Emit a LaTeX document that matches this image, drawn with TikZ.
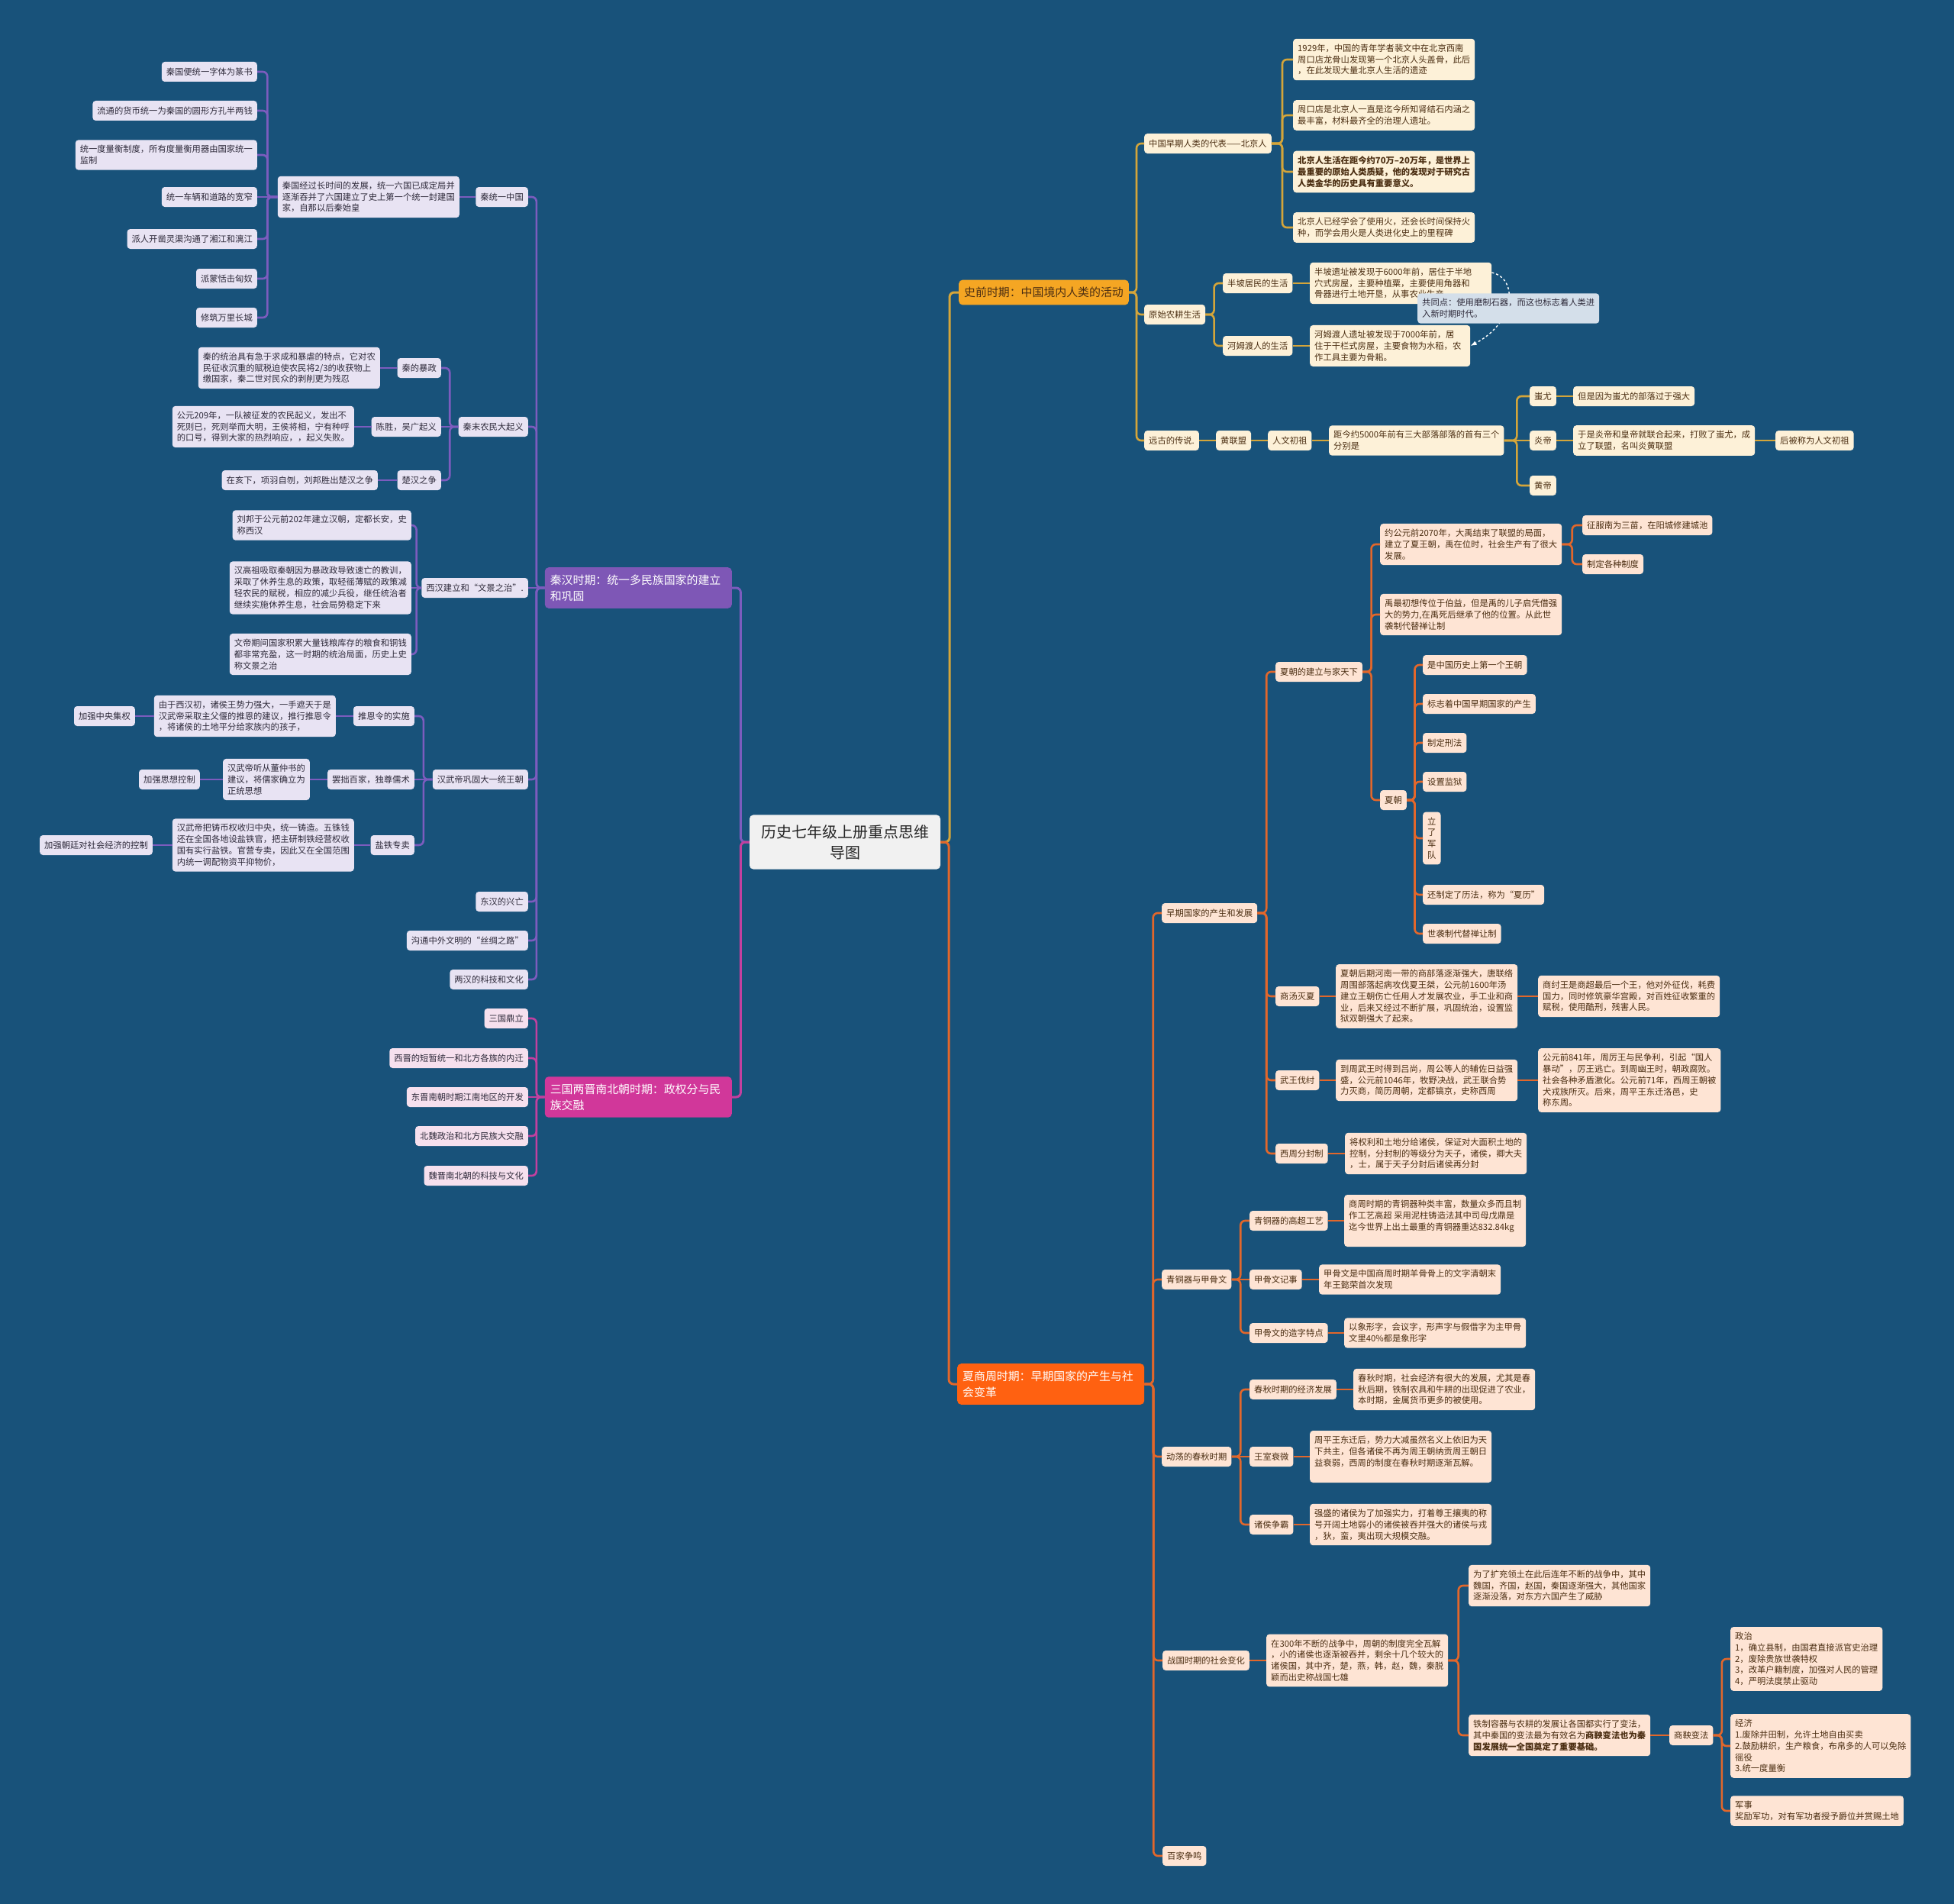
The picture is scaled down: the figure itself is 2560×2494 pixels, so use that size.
\documentclass[tikz,border=0pt]{standalone}
\usepackage{fontspec}
\setmainfont{Noto Sans CJK SC}
\usetikzlibrary{arrows.meta,calc}

\definecolor{bgblue}{HTML}{18527A}
\definecolor{rootfill}{HTML}{F1F1F1}
\definecolor{qhcat}{HTML}{7E57B6}
\definecolor{qhline}{HTML}{7C5CBE}
\definecolor{qhfill}{HTML}{E8E3F3}
\definecolor{sgcat}{HTML}{D1379A}
\definecolor{sgline}{HTML}{C2409F}
\definecolor{sgfill}{HTML}{F6E0EE}
\definecolor{sqcat}{HTML}{F5A623}
\definecolor{sqline}{HTML}{D4A53A}
\definecolor{sqfill}{HTML}{FDF1D8}
\definecolor{xzcat}{HTML}{FF6111}
\definecolor{xzline}{HTML}{E2672B}
\definecolor{xzfill}{HTML}{FEE4D4}
\definecolor{notefill}{HTML}{D4DFEA}
\definecolor{inkdark}{HTML}{2E2A3A}
\definecolor{inkbrown}{HTML}{4B2E12}

\begin{document}
\begin{tikzpicture}[
  x=1pt, y=-1pt,
  font=\fontsize{11.3}{14.8}\selectfont,
  topic/.style={rounded corners=4, inner xsep=6, inner ysep=7, minimum height=26, align=left},
  qhbox/.style={topic, fill=qhfill, text=inkdark},
  sgbox/.style={topic, fill=sgfill, text=inkdark},
  sqbox/.style={topic, fill=sqfill, text=inkbrown},
  xzbox/.style={topic, fill=xzfill, text=inkbrown},
  notebox/.style={topic, fill=notefill, text=inkdark},
  period/.style={rounded corners=5, inner xsep=7, inner ysep=9.5, align=left, font=\fontsize{14.9}{20.7}\selectfont},
  branch/.style={to path={-- ($(\tikztostart)!0.5!(\tikztostart-|\tikztotarget)$) |- (\tikztotarget)}},
  qhlink/.style={draw=qhline, line width=2.6, rounded corners=6},
  sglink/.style={draw=sgline, line width=2.6, rounded corners=6},
  sqlink/.style={draw=sqline, line width=2.6, rounded corners=6},
  xzlink/.style={draw=xzline, line width=2.6, rounded corners=6}
]

\fill[bgblue] (0,0) rectangle (2560,2494);
\useasboundingbox (0,0) rectangle (2560,2494);

\node[fill=rootfill, rounded corners=5, inner xsep=15, inner ysep=13, align=center, font=\fontsize{20}{26.7}\selectfont, text=black!85] (root) at (1107,1103) {历史七年级上册重点思维\\导图};

\node[period, fill=qhcat, text=white, text width=231, anchor=east] (qinhan) at (959,770) {秦汉时期：统一多民族国家的建立\\和巩固};
\node[period, fill=sgcat, text=white, text width=231, anchor=east] (sanguo) at (959,1437) {三国两晋南北朝时期：政权分与民\\族交融};
\node[period, fill=sqcat, text=inkbrown, anchor=west] (shiqian) at (1256,383) {史前时期：中国境内人类的活动};
\node[period, fill=xzcat, text=white, text width=231, anchor=west] (xsz) at (1254,1813) {夏商周时期：早期国家的产生与社\\会变革};

% Qin and Han
\node[qhbox, anchor=east] (qtyz) at (692,258) {秦统一中国};
\node[qhbox, anchor=east] (qtyzD) at (602,258) {秦国经过长时间的发展，统一六国已成定局并\\逐渐吞并了六国建立了史上第一个统一封建国\\家，自那以后秦始皇};
\node[qhbox, anchor=east] (qa1) at (337,94) {秦国便统一字体为篆书};
\node[qhbox, anchor=east] (qa2) at (337,145) {流通的货币统一为秦国的圆形方孔半两钱};
\node[qhbox, anchor=east] (qa3) at (337,203) {统一度量衡制度，所有度量衡用器由国家统一\\监制};
\node[qhbox, anchor=east] (qa4) at (337,258) {统一车辆和道路的宽窄};
\node[qhbox, anchor=east] (qa5) at (337,313) {派人开凿灵渠沟通了湘江和漓江};
\node[qhbox, anchor=east] (qa6) at (337,365) {派蒙恬击匈奴};
\node[qhbox, anchor=east] (qa7) at (337,416) {修筑万里长城};

\node[qhbox, anchor=east] (qmqy) at (692,559) {秦末农民大起义};
\node[qhbox, anchor=east] (bz) at (578,482) {秦的暴政};
\node[qhbox, anchor=east] (bzD) at (498,482) {秦的统治具有急于求成和暴虐的特点，它对农\\民征收沉重的赋税迫使农民将2/3的收获物上\\缴国家，秦二世对民众的剥削更为残忍};
\node[qhbox, anchor=east] (csgy) at (578,559) {陈胜，吴广起义};
\node[qhbox, anchor=east] (csD) at (464,559) {公元209年，一队被征发的农民起义，发出不\\死则已，死则举而大明，王侯将相，宁有种呼\\的口号，得到大家的热烈响应，，起义失败。};
\node[qhbox, anchor=east] (chzz) at (578,629) {楚汉之争};
\node[qhbox, anchor=east] (chD) at (495,629) {在亥下，项羽自刎，刘邦胜出楚汉之争};

\node[qhbox, anchor=east] (xhjl) at (692,770) {西汉建立和“文景之治”.};
\node[qhbox, anchor=east] (xh1) at (539,688) {刘邦于公元前202年建立汉朝，定都长安，史\\称西汉};
\node[qhbox, anchor=east] (xh2) at (539,770) {汉高祖吸取秦朝因为暴政政导致速亡的教训，\\采取了休养生息的政策，取轻徭薄赋的政策减\\轻农民的赋税，相应的减少兵役，继任统治者\\继续实施休养生息，社会局势稳定下来};
\node[qhbox, anchor=east] (xh3) at (539,857) {文帝期间国家积累大量钱粮库存的粮食和铜钱\\都非常充盈，这一时期的统治局面，历史上史\\称文景之治};

\node[qhbox, anchor=east] (hwd) at (692,1021) {汉武帝巩固大一统王朝};
\node[qhbox, anchor=east] (ty) at (543,938) {推恩令的实施};
\node[qhbox, anchor=east] (tyD) at (440,938) {由于西汉初，诸侯王势力强大，一手遮天于是\\汉武帝采取主父偃的推恩的建议，推行推恩令\\，将诸侯的土地平分给家族内的孩子，};
\node[qhbox, anchor=east] (tyE) at (177,938) {加强中央集权};
\node[qhbox, anchor=east] (bc) at (543,1021) {罢拙百家，独尊儒术};
\node[qhbox, anchor=east] (bcD) at (406,1021) {汉武帝听从董仲书的\\建议，将儒家确立为\\正统思想};
\node[qhbox, anchor=east] (bcE) at (262,1021) {加强思想控制};
\node[qhbox, anchor=east] (yt) at (543,1107) {盐铁专卖};
\node[qhbox, anchor=east] (ytD) at (464,1107) {汉武帝把铸币权收归中央，统一铸造。五铢钱\\还在全国各地设盐铁官，把主研制铁经营权收\\国有实行盐铁。官营专卖，因此又在全国范围\\内统一调配物资平抑物价，};
\node[qhbox, anchor=east] (ytE) at (200,1107) {加强朝廷对社会经济的控制};

\node[qhbox, anchor=east] (dhxw) at (692,1181) {东汉的兴亡};
\node[qhbox, anchor=east] (sczl) at (692,1232) {沟通中外文明的“丝绸之路”};
\node[qhbox, anchor=east] (lhkj) at (692,1283) {两汉的科技和文化};

% Three Kingdoms to Southern and Northern Dynasties
\node[sgbox, anchor=east] (sg1) at (692,1334) {三国鼎立};
\node[sgbox, anchor=east] (sg2) at (692,1386) {西晋的短暂统一和北方各族的内迁};
\node[sgbox, anchor=east] (sg3) at (692,1437) {东晋南朝时期江南地区的开发};
\node[sgbox, anchor=east] (sg4) at (692,1488) {北魏政治和北方民族大交融};
\node[sgbox, anchor=east] (sg5) at (692,1540) {魏晋南北朝的科技与文化};

% Prehistory
\node[sqbox, anchor=west] (bjr) at (1499,188) {中国早期人类的代表——北京人};
\node[sqbox, anchor=west] (bj1) at (1694,78) {1929年，中国的青年学者裴文中在北京西南\\周口店龙骨山发现第一个北京人头盖骨，此后\\，在此发现大量北京人生活的遗迹};
\node[sqbox, anchor=west] (bj2) at (1694,151) {周口店是北京人一直是迄今所知肾结石内涵之\\最丰富，材料最齐全的治理人遗址。};
\node[sqbox, anchor=west, font=\fontsize{11.3}{14.8}\selectfont\bfseries] (bj3) at (1694,225) {北京人生活在距今约70万–20万年，是世界上\\最重要的原始人类质疑，他的发现对于研究古\\人类金华的历史具有重要意义。};
\node[sqbox, anchor=west] (bj4) at (1694,298) {北京人已经学会了使用火，还会长时间保持火\\种，而学会用火是人类进化史上的里程碑};

\node[sqbox, anchor=west] (ysnf) at (1499,412) {原始农耕生活};
\node[sqbox, anchor=west] (bp) at (1602,371) {半坡居民的生活};
\node[sqbox, anchor=west, text width=226] (bpD) at (1716,371) {半坡遗址被发现于6000年前，居住于半地\\穴式房屋，主要种植粟，主要使用角器和\\骨器进行土地开垦，从事农业生产。};
\node[sqbox, anchor=west] (hmd) at (1602,453) {河姆渡人的生活};
\node[sqbox, anchor=west, text width=198] (hmdD) at (1716,453) {河姆渡人遗址被发现于7000年前，居\\住于干栏式房屋，主要食物为水稻，农\\作工具主要为骨耜。};

\node[sqbox, anchor=west] (ygcs) at (1499,577) {远古的传说.};
\node[sqbox, anchor=west] (hlm) at (1593,577) {黄联盟};
\node[sqbox, anchor=west] (rwcz) at (1661,577) {人文初祖};
\node[sqbox, anchor=west] (bl) at (1741,577) {距今约5000年前有三大部落部落的首有三个\\分别是};
\node[sqbox, anchor=west] (cy) at (2004,519) {蚩尤};
\node[sqbox, anchor=west] (cyD) at (2061,519) {但是因为蚩尤的部落过于强大};
\node[sqbox, anchor=west] (yd) at (2004,577) {炎帝};
\node[sqbox, anchor=west] (ydD) at (2061,577) {于是炎帝和皇帝就联合起来，打败了蚩尤，成\\立了联盟，名叫炎黄联盟};
\node[sqbox, anchor=west] (ydE) at (2326,577) {后被称为人文初祖};
\node[sqbox, anchor=west] (hd) at (2004,636) {黄帝};

% Xia, Shang and Zhou
\node[xzbox, anchor=west] (zqgj) at (1522,1196) {早期国家的产生和发展};
\node[xzbox, anchor=west] (xcjl) at (1671,880) {夏朝的建立与家天下};
\node[xzbox, anchor=west] (xy1) at (1808,713) {约公元前2070年，大禹结束了联盟的局面，\\建立了夏王朝，禹在位时，社会生产有了很大\\发展。};
\node[xzbox, anchor=west] (zf) at (2073,688) {征服南为三苗，在阳城修建城池};
\node[xzbox, anchor=west] (zd) at (2073,739) {制定各种制度};
\node[xzbox, anchor=west] (xy2) at (1808,805) {禹最初想传位于伯益，但是禹的儿子启凭借强\\大的势力,在禹死后继承了他的位置。从此世\\袭制代替禅让制};
\node[xzbox, anchor=west] (xc) at (1808,1048) {夏朝};
\node[xzbox, anchor=west] (xc1) at (1864,871) {是中国历史上第一个王朝};
\node[xzbox, anchor=west] (xc2) at (1864,922) {标志着中国早期国家的产生};
\node[xzbox, anchor=west] (xc3) at (1864,973) {制定刑法};
\node[xzbox, anchor=west] (xc4) at (1864,1024) {设置监狱};
\node[xzbox, anchor=west, align=center] (xc5) at (1864,1098) {立\\了\\军\\队};
\node[xzbox, anchor=west] (xc6) at (1864,1172) {还制定了历法，称为“夏历”};
\node[xzbox, anchor=west] (xc7) at (1864,1223) {世袭制代替禅让制};

\node[xzbox, anchor=west] (stmx) at (1671,1305) {商汤灭夏};
\node[xzbox, anchor=west] (stD) at (1750,1305) {夏朝后期河南一带的商部落逐渐强大，唐联络\\周围部落起病攻伐夏王桀，公元前1600年汤\\建立王朝伤亡任用人才发展农业，手工业和商\\业，后来又经过不断扩展，巩固统治，设置监\\狱双朝强大了起来。};
\node[xzbox, anchor=west] (stE) at (2015,1305) {商纣王是商超最后一个王，他对外征伐，耗费\\国力，同时修筑豪华宫殿，对百姓征收繁重的\\赋税，使用酷刑，残害人民。};
\node[xzbox, anchor=west] (wwfz) at (1671,1415) {武王伐纣};
\node[xzbox, anchor=west] (wwD) at (1750,1415) {到周武王时得到吕尚，周公等人的辅佐日益强\\盛，公元前1046年，牧野决战，武王联合势\\力灭商，简历周朝，定都镐京，史称西周};
\node[xzbox, anchor=west] (wwE) at (2015,1415) {公元前841年，周厉王与民争利，引起“国人\\暴动”，厉王逃亡。到周幽王时，朝政腐败。\\社会各种矛盾激化。公元前71年，西周王朝被\\犬戎族所灭。后来，周平王东迁洛邑，史\\称东周。};
\node[xzbox, anchor=west] (xzff) at (1671,1511) {西周分封制};
\node[xzbox, anchor=west] (xzD) at (1762,1511) {将权利和土地分给诸侯，保证对大面积土地的\\控制，分封制的等级分为天子，诸侯，卿大夫\\，士，属于天子分封后诸侯再分封};

\node[xzbox, anchor=west] (qtjg) at (1522,1676) {青铜器与甲骨文};
\node[xzbox, anchor=west] (tq1) at (1637,1599) {青铜器的高超工艺};
\node[xzbox, anchor=west] (tq1D) at (1761,1599) {商周时期的青铜器种类丰富，数量众多而且制\\作工艺高超 采用泥柱铸造法其中司母戊鼎是\\迄今世界上出土最重的青铜器重达832.84kg\\\mbox{}};
\node[xzbox, anchor=west] (tq2) at (1637,1676) {甲骨文记事};
\node[xzbox, anchor=west] (tq2D) at (1728,1676) {甲骨文是中国商周时期羊骨骨上的文字清朝末\\年王懿荣首次发现};
\node[xzbox, anchor=west] (tq3) at (1637,1746) {甲骨文的造字特点};
\node[xzbox, anchor=west] (tq3D) at (1761,1746) {以象形字，会议字，形声字与假借字为主甲骨\\文里40\%都是象形字};

\node[xzbox, anchor=west] (ddcq) at (1522,1908) {动荡的春秋时期};
\node[xzbox, anchor=west] (cq1) at (1637,1820) {春秋时期的经济发展};
\node[xzbox, anchor=west] (cq1D) at (1773,1820) {春秋时期，社会经济有很大的发展，尤其是春\\秋后期，铁制农具和牛耕的出现促进了农业，\\本时期，金属货币更多的被使用。};
\node[xzbox, anchor=west] (cq2) at (1637,1908) {王室衰微};
\node[xzbox, anchor=west] (cq2D) at (1716,1908) {周平王东迁后，势力大减虽然名义上依旧为天\\下共主，但各诸侯不再为周王朝纳贡周王朝日\\益衰弱，西周的制度在春秋时期逐渐瓦解。\\\mbox{}};
\node[xzbox, anchor=west] (cq3) at (1637,1997) {诸侯争霸};
\node[xzbox, anchor=west] (cq3D) at (1716,1997) {强盛的诸侯为了加强实力，打着尊王攘夷的称\\号开阔土地弱小的诸侯被吞并强大的诸侯与戎\\，狄，蛮，夷出现大规模交融。};

\node[xzbox, anchor=west] (zgsh) at (1523,2175) {战国时期的社会变化};
\node[xzbox, anchor=west] (zgD) at (1659,2175) {在300年不断的战争中，周朝的制度完全瓦解\\，小的诸侯也逐渐被吞并，剩余十几个较大的\\诸侯国，其中齐，楚，燕，韩，赵，魏，秦脱\\颖而出史称战国七雄};
\node[xzbox, anchor=west] (zg1) at (1924,2077) {为了扩充领土在此后连年不断的战争中，其中\\魏国，齐国，赵国，秦国逐渐强大，其他国家\\逐渐没落，对东方六国产生了威胁};
\node[xzbox, anchor=west] (zg2) at (1924,2273) {铁制容器与农耕的发展让各国都实行了变法，\\其中秦国的变法最为有效名为{\bfseries 商鞅变法也为秦}\\{\bfseries 国发展统一全国奠定了重要基础。}};
\node[xzbox, anchor=west] (sybf) at (2187,2273) {商鞅变法};
\node[xzbox, anchor=west] (zz) at (2267,2173) {政治\\1，确立县制，由国君直接派官史治理\\2，废除贵族世袭特权\\3，改革户籍制度，加强对人民的管理\\4，严明法度禁止驱动};
\node[xzbox, anchor=west] (jj) at (2267,2287) {经济\\1.废除井田制，允许土地自由买卖\\2.鼓励耕织，生产粮食，布帛多的人可以免除\\徭役\\3.统一度量衡};
\node[xzbox, anchor=west] (js) at (2267,2372) {军事\\奖励军功，对有军功者授予爵位并赏赐土地};
\node[xzbox, anchor=west] (bjzm) at (1523,2431) {百家争鸣};

% centre to periods
\draw[qhlink, line width=3] (root.west) to[branch] (qinhan.east);
\draw[sglink, line width=3] (root.west) to[branch] (sanguo.east);
\draw[sqlink, line width=3] (root.east) to[branch] (shiqian.west);
\draw[xzlink, line width=3] (root.east) to[branch] (xsz.west);

\draw[qhlink] (qinhan.west) to[branch] (qtyz.east);
\draw[qhlink] (qinhan.west) to[branch] (qmqy.east);
\draw[qhlink] (qinhan.west) -- (xhjl.east);
\draw[qhlink] (qinhan.west) to[branch] (hwd.east);
\draw[qhlink] (qinhan.west) to[branch] (dhxw.east);
\draw[qhlink] (qinhan.west) to[branch] (sczl.east);
\draw[qhlink] (qinhan.west) to[branch] (lhkj.east);
\draw[qhlink] (qtyz.west) -- (qtyzD.east);
\draw[qhlink] (qtyzD.west) to[branch] (qa1.east);
\draw[qhlink] (qtyzD.west) to[branch] (qa2.east);
\draw[qhlink] (qtyzD.west) to[branch] (qa3.east);
\draw[qhlink] (qtyzD.west) -- (qa4.east);
\draw[qhlink] (qtyzD.west) to[branch] (qa5.east);
\draw[qhlink] (qtyzD.west) to[branch] (qa6.east);
\draw[qhlink] (qtyzD.west) to[branch] (qa7.east);
\draw[qhlink] (qmqy.west) to[branch] (bz.east);
\draw[qhlink] (qmqy.west) -- (csgy.east);
\draw[qhlink] (qmqy.west) to[branch] (chzz.east);
\draw[qhlink] (bz.west) -- (bzD.east);
\draw[qhlink] (csgy.west) -- (csD.east);
\draw[qhlink] (chzz.west) -- (chD.east);
\draw[qhlink] (xhjl.west) to[branch] (xh1.east);
\draw[qhlink] (xhjl.west) -- (xh2.east);
\draw[qhlink] (xhjl.west) to[branch] (xh3.east);
\draw[qhlink] (hwd.west) to[branch] (ty.east);
\draw[qhlink] (hwd.west) -- (bc.east);
\draw[qhlink] (hwd.west) to[branch] (yt.east);
\draw[qhlink] (ty.west) -- (tyD.east);
\draw[qhlink] (tyD.west) -- (tyE.east);
\draw[qhlink] (bc.west) -- (bcD.east);
\draw[qhlink] (bcD.west) -- (bcE.east);
\draw[qhlink] (yt.west) -- (ytD.east);
\draw[qhlink] (ytD.west) -- (ytE.east);

\draw[sglink] (sanguo.west) to[branch] (sg1.east);
\draw[sglink] (sanguo.west) to[branch] (sg2.east);
\draw[sglink] (sanguo.west) -- (sg3.east);
\draw[sglink] (sanguo.west) to[branch] (sg4.east);
\draw[sglink] (sanguo.west) to[branch] (sg5.east);

\draw[sqlink] (shiqian.east) to[branch] (bjr.west);
\draw[sqlink] (shiqian.east) to[branch] (ysnf.west);
\draw[sqlink] (shiqian.east) to[branch] (ygcs.west);
\draw[sqlink] (bjr.east) to[branch] (bj1.west);
\draw[sqlink] (bjr.east) to[branch] (bj2.west);
\draw[sqlink] (bjr.east) to[branch] (bj3.west);
\draw[sqlink] (bjr.east) to[branch] (bj4.west);
\draw[sqlink] (ysnf.east) to[branch] (bp.west);
\draw[sqlink] (ysnf.east) to[branch] (hmd.west);
\draw[sqlink] (bp.east) -- (bpD.west);
\draw[sqlink] (hmd.east) -- (hmdD.west);
\draw[sqlink] (ygcs.east) -- (hlm.west);
\draw[sqlink] (hlm.east) -- (rwcz.west);
\draw[sqlink] (rwcz.east) -- (bl.west);
\draw[sqlink] (bl.east) to[branch] (cy.west);
\draw[sqlink] (bl.east) -- (yd.west);
\draw[sqlink] (bl.east) to[branch] (hd.west);
\draw[sqlink] (cy.east) -- (cyD.west);
\draw[sqlink] (yd.east) -- (ydD.west);
\draw[sqlink] (ydD.east) -- (ydE.west);

\draw[white, dashed, line width=1.4, -{Latex[length=8]}] ([yshift=14pt]bpD.east) .. controls +(36,8) and +(58,-30) .. (hmdD.east);
\node[notebox, anchor=west] (gtd) at (1857,404) {共同点：使用磨制石器，而这也标志着人类进\\入新时期时代。};

\draw[xzlink] (xsz.east) to[branch] (zqgj.west);
\draw[xzlink] (xsz.east) to[branch] (qtjg.west);
\draw[xzlink] (xsz.east) to[branch] (ddcq.west);
\draw[xzlink] (xsz.east) to[branch] (zgsh.west);
\draw[xzlink] (xsz.east) to[branch] (bjzm.west);
\draw[xzlink] (zqgj.east) to[branch] (xcjl.west);
\draw[xzlink] (zqgj.east) to[branch] (stmx.west);
\draw[xzlink] (zqgj.east) to[branch] (wwfz.west);
\draw[xzlink] (zqgj.east) to[branch] (xzff.west);
\draw[xzlink] (xcjl.east) to[branch] (xy1.west);
\draw[xzlink] (xcjl.east) to[branch] (xy2.west);
\draw[xzlink] (xcjl.east) to[branch] (xc.west);
\draw[xzlink] (xy1.east) to[branch] (zf.west);
\draw[xzlink] (xy1.east) to[branch] (zd.west);
\draw[xzlink] (xc.east) to[branch] (xc1.west);
\draw[xzlink] (xc.east) to[branch] (xc2.west);
\draw[xzlink] (xc.east) to[branch] (xc3.west);
\draw[xzlink] (xc.east) to[branch] (xc4.west);
\draw[xzlink] (xc.east) to[branch] (xc5.west);
\draw[xzlink] (xc.east) to[branch] (xc6.west);
\draw[xzlink] (xc.east) to[branch] (xc7.west);
\draw[xzlink] (stmx.east) -- (stD.west);
\draw[xzlink] (stD.east) -- (stE.west);
\draw[xzlink] (wwfz.east) -- (wwD.west);
\draw[xzlink] (wwD.east) -- (wwE.west);
\draw[xzlink] (xzff.east) -- (xzD.west);
\draw[xzlink] (qtjg.east) to[branch] (tq1.west);
\draw[xzlink] (qtjg.east) -- (tq2.west);
\draw[xzlink] (qtjg.east) to[branch] (tq3.west);
\draw[xzlink] (tq1.east) -- (tq1D.west);
\draw[xzlink] (tq2.east) -- (tq2D.west);
\draw[xzlink] (tq3.east) -- (tq3D.west);
\draw[xzlink] (ddcq.east) to[branch] (cq1.west);
\draw[xzlink] (ddcq.east) -- (cq2.west);
\draw[xzlink] (ddcq.east) to[branch] (cq3.west);
\draw[xzlink] (cq1.east) -- (cq1D.west);
\draw[xzlink] (cq2.east) -- (cq2D.west);
\draw[xzlink] (cq3.east) -- (cq3D.west);
\draw[xzlink] (zgsh.east) -- (zgD.west);
\draw[xzlink] (zgD.east) to[branch] (zg1.west);
\draw[xzlink] (zgD.east) to[branch] (zg2.west);
\draw[xzlink] (zg2.east) -- (sybf.west);
\draw[xzlink] (sybf.east) to[branch] (zz.west);
\draw[xzlink] (sybf.east) to[branch] (jj.west);
\draw[xzlink] (sybf.east) to[branch] (js.west);

\end{tikzpicture}
\end{document}
